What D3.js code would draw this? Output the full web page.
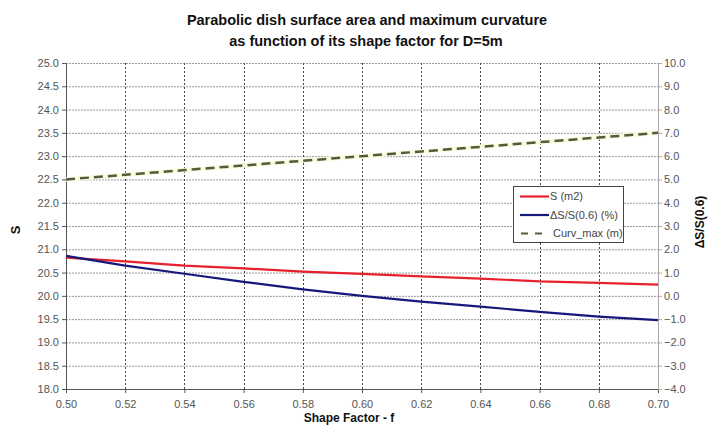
<!DOCTYPE html>
<html>
<head>
<meta charset="utf-8">
<script src="https://cdn.jsdelivr.net/npm/d3@7"></script>
<style>
body { margin:0; background:#fff; }
svg { display:block; font-family:"Liberation Sans", Arial, sans-serif; }
.tick text { fill:#555; font-size:11px; }
.title, .axtitle { font-family:"Liberation Sans", Arial, sans-serif; font-weight:bold; fill:#111; }
</style>
</head>
<body>
<svg></svg>
<script>
var shapeFactor = [0.50, 0.52, 0.54, 0.56, 0.58, 0.60, 0.62, 0.64, 0.66, 0.68, 0.70]
var surface = [20.82, 20.74, 20.65, 20.59, 20.52, 20.47, 20.42, 20.37, 20.31, 20.28, 20.24]
var deltaS = [1.72, 1.30, 0.95, 0.60, 0.28, 0.00, -0.25, -0.46, -0.69, -0.89, -1.04]
var curvMax = [5.0, 5.2, 5.4, 5.6, 5.8, 6.0, 6.2, 6.4, 6.6, 6.8, 7.0]
var xTicks = [0.50, 0.52, 0.54, 0.56, 0.58, 0.60, 0.62, 0.64, 0.66, 0.68, 0.70]
var leftTicks = [18.0, 18.5, 19.0, 19.5, 20.0, 20.5, 21.0, 21.5, 22.0, 22.5, 23.0, 23.5, 24.0, 24.5, 25.0]
var rightTicks = [-4, -3, -2, -1, 0, 1, 2, 3, 4, 5, 6, 7, 8, 9, 10]
var legendNames = ["S (m2)", "\u0394S/S(0.6) (%)", "Curv_max (m)"]

var screen = {width:709, height:436}
var margins = {top:63, right:51, bottom:47, left:66}
var width = screen.width - margins.left - margins.right
var height = screen.height - margins.top - margins.bottom

var svg = d3.select("svg")
    .attr("width", screen.width)
    .attr("height", screen.height)

var xScale = d3.scaleLinear().domain([0.5, 0.7]).range([0, width])
var yLeft = d3.scaleLinear().domain([18, 25]).range([height, 0])
var yRight = d3.scaleLinear().domain([-4, 10]).range([height, 0])

var g = svg.append("g")
    .attr("transform", "translate(" + margins.left + "," + margins.top + ")")

// grid
g.append("g").selectAll("line")
    .data(leftTicks.slice(1))
    .enter().append("line")
    .attr("x1", 0).attr("x2", width)
    .attr("y1", function(d){ return yLeft(d) + 0.5 })
    .attr("y2", function(d){ return yLeft(d) + 0.5 })
    .attr("stroke", "#999").attr("stroke-dasharray", "2,1")

g.append("g").selectAll("line")
    .data(xTicks.slice(1, -1))
    .enter().append("line")
    .attr("y1", 0).attr("y2", height)
    .attr("x1", function(d){ return Math.round(xScale(d)) + 0.5 })
    .attr("x2", function(d){ return Math.round(xScale(d)) + 0.5 })
    .attr("stroke", "#444").attr("stroke-dasharray", "2,2")

// axes
var xAxis = d3.axisBottom(xScale).tickValues(xTicks).tickFormat(d3.format(".2f")).tickSize(4).tickSizeOuter(0)
var yAxisL = d3.axisLeft(yLeft).tickValues(leftTicks).tickFormat(d3.format(".1f")).tickSize(4).tickSizeOuter(0)
var yAxisR = d3.axisRight(yRight).tickValues(rightTicks).tickFormat(d3.format(".1f")).tickSize(4).tickSizeOuter(0)

var gx = g.append("g").attr("transform", "translate(0," + height + ")").call(xAxis)
gx.selectAll("text").attr("dy", "1.05em")
var gl = g.append("g").call(yAxisL)
var gr = g.append("g").attr("transform", "translate(" + width + ",0)").call(yAxisR)
gr.selectAll("text").attr("x", 6)
gl.selectAll("text").attr("x", -7)
gx.select(".domain").attr("stroke", "#555")
gl.select(".domain").attr("stroke", "#555")
gr.select(".domain").attr("stroke", "#aaa")
gx.selectAll(".tick line").attr("stroke", "#555")
gl.selectAll(".tick line").attr("stroke", "#555")
gr.selectAll(".tick line").attr("stroke", "#aaa")

// lines
var lineLeft = d3.line()
    .x(function(d, i){ return xScale(shapeFactor[i]) })
    .y(function(d){ return yLeft(d) })
var lineRight = d3.line()
    .x(function(d, i){ return xScale(shapeFactor[i]) })
    .y(function(d){ return yRight(d) })

g.append("path").datum(curvMax)
    .attr("d", lineRight).attr("fill", "none")
    .attr("stroke", "#fbfbe0").attr("stroke-width", 4.5)
g.append("path").datum(curvMax)
    .attr("d", lineRight).attr("fill", "none")
    .attr("stroke", "#525c3c").attr("stroke-width", 2.5).attr("stroke-dasharray", "9,5")
g.append("path").datum(surface)
    .attr("d", lineLeft).attr("fill", "none")
    .attr("stroke", "#e8202e").attr("stroke-width", 2.2)
g.append("path").datum(deltaS)
    .attr("d", lineRight).attr("fill", "none")
    .attr("stroke", "#151a7a").attr("stroke-width", 2.2)

// legend
var legend = svg.append("g").attr("transform", "translate(513,186)")
legend.append("rect")
    .attr("x", 0.5).attr("y", 0.5).attr("width", 110).attr("height", 56)
    .attr("fill", "#fff").attr("stroke", "#444")
var legendColors = ["#e8202e", "#151a7a", "#525c3c"]
var legendDash = [null, null, "7,7"]
legend.selectAll(".item")
    .data(legendNames)
    .enter().append("g")
    .attr("transform", function(d, i){ return "translate(0," + (10 + i * 18.5) + ")" })
    .each(function(d, i){
        var it = d3.select(this)
        it.append("line").attr("x1", i == 2 ? 8 : 7).attr("x2", i == 2 ? 29 : 36).attr("y1", 0.5).attr("y2", 0.5)
            .attr("stroke", legendColors[i]).attr("stroke-width", 2.2)
            .attr("stroke-dasharray", legendDash[i])
        it.append("text").attr("x", i == 2 ? 40 : 37).attr("y", 4).text(d)
            .attr("font-size", "11px").attr("fill", "#444")
    })

// titles
svg.append("text").attr("class", "title").attr("x", 367).attr("y", 25)
    .attr("text-anchor", "middle").attr("font-size", "14.5px")
    .text("Parabolic dish surface area and maximum curvature")
svg.append("text").attr("class", "title").attr("x", 366).attr("y", 46)
    .attr("text-anchor", "middle").attr("font-size", "14.5px")
    .text("as function of its shape factor for D=5m")
svg.append("text").attr("class", "axtitle").attr("x", 349).attr("y", 422)
    .attr("text-anchor", "middle").attr("font-size", "12px")
    .text("Shape Factor - f")
svg.append("text").attr("class", "axtitle")
    .attr("transform", "translate(20,230) rotate(-90)")
    .attr("text-anchor", "middle").attr("font-size", "13px")
    .text("S")
svg.append("text").attr("class", "axtitle")
    .attr("transform", "translate(704,222) rotate(-90)")
    .attr("text-anchor", "middle").attr("font-size", "12px")
    .text("\u0394S/S(0.6)")
</script>
</body>
</html>
